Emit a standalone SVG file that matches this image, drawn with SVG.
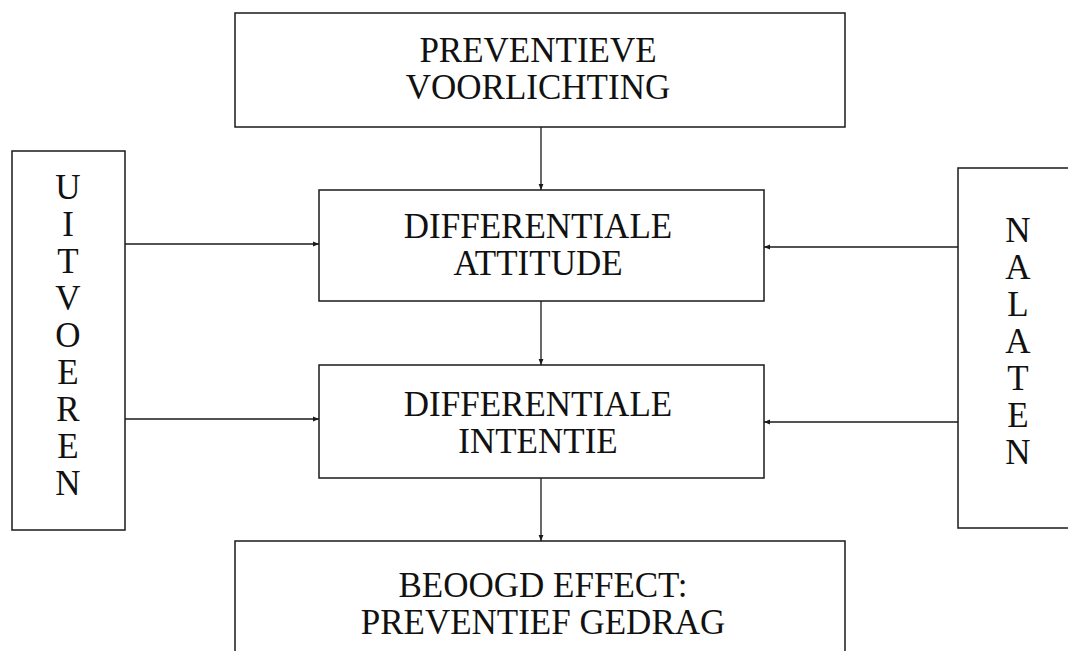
<svg xmlns="http://www.w3.org/2000/svg" width="1068" height="651" viewBox="0 0 1068 651">
<defs>
<style>
.box{fill:#fff;stroke:#1a1a1a;stroke-width:1.5}
.t{font-family:"Liberation Serif","Times New Roman",serif;font-size:35px;fill:#111;text-anchor:middle}
.c{stroke:#1a1a1a;stroke-width:1.3;fill:none;marker-end:url(#ah)}
</style>
<marker id="ah" viewBox="0 0 10 10" refX="10" refY="5" markerWidth="7" markerHeight="6" markerUnits="userSpaceOnUse" orient="auto">
<path d="M0,1 L10,5 L0,9 Z" fill="#1a1a1a"/>
</marker>
</defs>
<rect width="1068" height="651" fill="#fff"/>
<g id="connectors">
<line class="c" x1="541" y1="127" x2="541" y2="190"/>
<line class="c" x1="541" y1="301" x2="541" y2="365"/>
<line class="c" x1="541" y1="478" x2="541" y2="541"/>
<line class="c" x1="125" y1="244" x2="319" y2="244"/>
<line class="c" x1="125" y1="419" x2="319" y2="419"/>
<line class="c" x1="958" y1="247" x2="764" y2="247"/>
<line class="c" x1="958" y1="422" x2="764" y2="422"/>
</g>
<g id="preventieve-voorlichting">
<rect class="box" x="235" y="13" width="610" height="114"/>
<text class="t" x="538" y="62">PREVENTIEVE</text>
<text class="t" x="538" y="99">VOORLICHTING</text>
</g>
<g id="differentiale-attitude">
<rect class="box" x="319" y="190" width="445" height="111"/>
<text class="t" x="538" y="238">DIFFERENTIALE</text>
<text class="t" x="538" y="275">ATTITUDE</text>
</g>
<g id="differentiale-intentie">
<rect class="box" x="319" y="365" width="445" height="113"/>
<text class="t" x="538" y="416">DIFFERENTIALE</text>
<text class="t" x="538" y="453">INTENTIE</text>
</g>
<g id="beoogd-effect">
<rect class="box" x="235" y="541" width="610" height="130"/>
<text class="t" x="543" y="597">BEOOGD EFFECT:</text>
<text class="t" x="543" y="634">PREVENTIEF GEDRAG</text>
</g>
<g id="uitvoeren">
<rect class="box" x="12" y="151" width="113" height="379"/>
<text class="t" x="68" y="199">U</text>
<text class="t" x="68" y="236">I</text>
<text class="t" x="68" y="273">T</text>
<text class="t" x="68" y="310">V</text>
<text class="t" x="68" y="347">O</text>
<text class="t" x="68" y="384">E</text>
<text class="t" x="68" y="421">R</text>
<text class="t" x="68" y="458">E</text>
<text class="t" x="68" y="495">N</text>
</g>
<g id="nalaten">
<rect class="box" x="958" y="168" width="130" height="360"/>
<text class="t" x="1018" y="242">N</text>
<text class="t" x="1018" y="279">A</text>
<text class="t" x="1018" y="316">L</text>
<text class="t" x="1018" y="353">A</text>
<text class="t" x="1018" y="390">T</text>
<text class="t" x="1018" y="427">E</text>
<text class="t" x="1018" y="464">N</text>
</g>
</svg>
